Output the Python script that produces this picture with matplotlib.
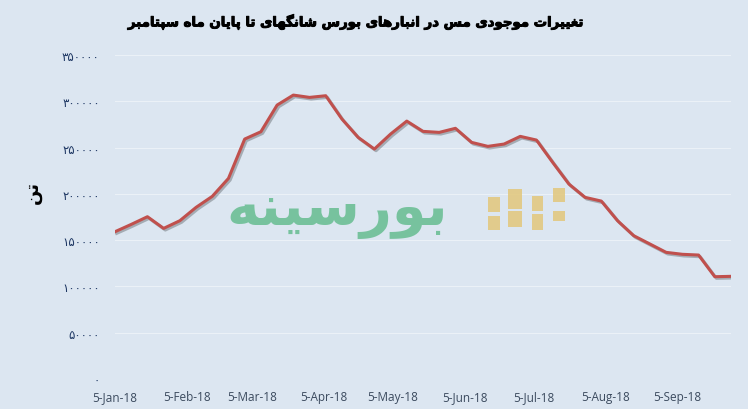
import pandas as pd
import matplotlib.pyplot as plt
import matplotlib.patheffects as pe
from matplotlib.patches import Rectangle

# weekly copper stocks (tonnes), SHFE warehouses, from 5-Jan-18
start_date = '2018-01-05'
stocks = [159100, 167000, 175300, 162700, 171000, 185400, 197300, 216700,
          259200, 267100, 295900, 306700, 304200, 306000, 280800, 261000,
          248400, 264600, 278600, 267500, 266400, 270800, 255600, 251300,
          253800, 262100, 258100, 234000, 210600, 196200, 192200, 171000,
          154800, 145800, 136800, 134700, 133900, 110500, 110900]

x_tick_dates = ['2018-01-05', '2018-02-05', '2018-03-05', '2018-04-05', '2018-05-05',
                '2018-06-05', '2018-07-05', '2018-08-05', '2018-09-05']
x_tick_labels = ['5-Jan-18', '5-Feb-18', '5-Mar-18', '5-Apr-18', '5-May-18',
                 '5-Jun-18', '5-Jul-18', '5-Aug-18', '5-Sep-18']
y_ticks = [0, 50000, 100000, 150000, 200000, 250000, 300000, 350000]
y_tick_labels = ['۰', '۵۰۰۰۰', '۱۰۰۰۰۰', '۱۵۰۰۰۰', '۲۰۰۰۰۰', '۲۵۰۰۰۰', '۳۰۰۰۰۰', '۳۵۰۰۰۰']

title = 'تغییرات موجودی مس در انبارهای بورس شانگهای تا پایان ماه سپتامبر'
unit_label = 'تن'
watermark = 'بورسینه'

# matplotlib has no arabic shaping, so pick presentation forms by hand
# (isolated, final, initial, medial); None = letter only joins to the right
forms = {
    'ا': ('\ufe8d', '\ufe8e', None, None),
    'ب': ('\ufe8f', '\ufe90', '\ufe91', '\ufe92'),
    'ت': ('\ufe95', '\ufe96', '\ufe97', '\ufe98'),
    'ج': ('\ufe9d', '\ufe9e', '\ufe9f', '\ufea0'),
    'د': ('\ufea9', '\ufeaa', None, None),
    'ر': ('\ufead', '\ufeae', None, None),
    'س': ('\ufeb1', '\ufeb2', '\ufeb3', '\ufeb4'),
    'ش': ('\ufeb5', '\ufeb6', '\ufeb7', '\ufeb8'),
    'غ': ('\ufecd', '\ufece', '\ufecf', '\ufed0'),
    'م': ('\ufee1', '\ufee2', '\ufee3', '\ufee4'),
    'ن': ('\ufee5', '\ufee6', '\ufee7', '\ufee8'),
    'ه': ('\ufee9', '\ufeea', '\ufeeb', '\ufeec'),
    'و': ('\ufeed', '\ufeee', None, None),
    'پ': ('\ufb56', '\ufb57', '\ufb58', '\ufb59'),
    'گ': ('\ufb92', '\ufb93', '\ufb94', '\ufb95'),
    'ی': ('\ufbfc', '\ufbfd', '\ufbfe', '\ufbff'),
}


def shape(text):
    out = []
    for i, ch in enumerate(text):
        if ch not in forms:
            out.append(ch)
            continue
        prev = text[i - 1] if i > 0 else ''
        nxt = text[i + 1] if i + 1 < len(text) else ''
        join_prev = prev in forms and forms[prev][2] is not None
        join_next = forms[ch][2] is not None and nxt in forms
        f = forms[ch]
        if join_prev and join_next:
            out.append(f[3])
        elif join_prev:
            out.append(f[1])
        elif join_next:
            out.append(f[2])
        else:
            out.append(f[0])
    return ''.join(out)[::-1]


dates = pd.date_range(start_date, periods=len(stocks), freq='7D')
bg = '#dce6f1'

fig = plt.figure(figsize=(7.48, 4.10), dpi=100, facecolor=bg)
ax = fig.add_axes([115 / 748, 1 - 380 / 410, 616 / 748, 324 / 410])
ax.set_facecolor(bg)

ax.plot(dates, stocks, color='#c0504d', linewidth=2.2, solid_joinstyle='round',
        path_effects=[pe.SimpleLineShadow(offset=(1.2, -1.2), alpha=0.25), pe.Normal()],
        zorder=3)

ax.set_xlim(dates[0], dates[-1])
ax.set_ylim(0, 350000)
ax.set_yticks(y_ticks)
ax.set_yticklabels(y_tick_labels, fontsize=8.5, color='#1f3864', family='DejaVu Sans')
ax.set_xticks(pd.to_datetime(x_tick_dates))
ax.set_xticklabels(x_tick_labels, fontsize=8.5, color='#3b4a5e', family='Open Sans')
ax.tick_params(axis='both', length=0)
ax.tick_params(axis='y', pad=11)
ax.tick_params(axis='x', pad=8)
ax.grid(axis='y', color='white', alpha=0.45, linewidth=0.8)
for s in ax.spines.values():
    s.set_visible(False)

fig.text(357 / 748, 1 - 23 / 410, shape(title), ha='center', va='center',
         fontsize=9.6, fontweight='bold', color='black', family='DejaVu Sans',
         path_effects=[pe.withStroke(linewidth=0.7, foreground='black')])
fig.text(33 / 748, 1 - 193 / 410, shape(unit_label), ha='center', va='center',
         rotation=90, fontsize=13, fontweight='bold', color='black', family='DejaVu Sans')

# watermark logo: green word plus yellow blocks
fig.text(337 / 748, 1 - 212 / 410, shape(watermark), ha='center', va='center',
         fontsize=40, fontweight='bold', color='#6cbf95', alpha=0.9,
         family='DejaVu Sans', zorder=1)
blocks = [(488, 198, 12, 15), (488, 217, 12, 14), (508, 190, 14, 20), (508, 212, 14, 16),
          (532, 197, 11, 15), (532, 215, 11, 16), (553, 189, 12, 14), (553, 212, 12, 10)]
for bx, by, bw, bh in blocks:
    fig.add_artist(Rectangle((bx / 748, 1 - (by + bh) / 410), bw / 748, bh / 410,
                             transform=fig.transFigure, color='#e2c77a', alpha=0.85,
                             linewidth=0, zorder=1))

plt.savefig('out.png', dpi=100, facecolor=bg)
